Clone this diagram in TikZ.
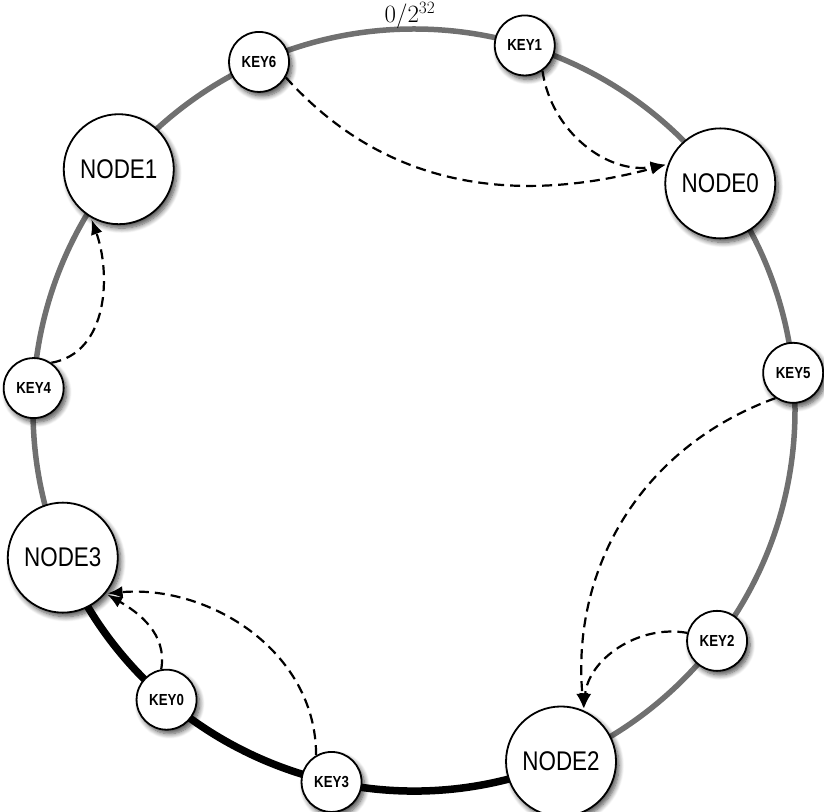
\documentclass[tikz,border=0pt]{standalone}
\usepackage{fontspec}
\newfontfamily\ringfont[FakeStretch=0.83]{Liberation Sans}
\usetikzlibrary{arrows.meta,shadows.blur}
\definecolor{ringgray}{RGB}{112,112,112}

\begin{document}
\begin{tikzpicture}[x=1pt,y=1pt,line cap=butt,line join=miter,
    ringnode/.style={circle,draw=black,line width=1.8pt,fill=white,inner sep=0pt,
      blur shadow={shadow xshift=3pt,shadow yshift=-4pt,shadow blur radius=5pt,shadow blur steps=8,shadow opacity=70}},
    servernode/.style={ringnode,minimum size=110pt,
      font=\ringfont\fontsize{27pt}{30pt}\selectfont},
    keynode/.style={ringnode,minimum size=60pt,
      font=\ringfont\bfseries\fontsize{16pt}{18pt}\selectfont},
    hop/.style={draw=black,dash pattern=on 10pt off 6pt,line width=2.2pt,shorten >=2pt,
      -{Latex[length=15pt,width=12pt]}}]
  \path[use as bounding box] (0,0) rectangle (824,811);   % bbox = 源画布 824x811 px
  % ---- 环：圆心 px(414,410)，半径 381 px（由 11 个节点中心拟合） ----
  \coordinate (O) at (414,401);
  \draw[ringgray,line width=5.5pt] (O) circle[radius=381];
  % NODE3 -> NODE2 之间的粗黑弧段（经 KEY0、KEY3）
  \draw[black,line width=7.5pt,shift={(O)}] (202.8:381) arc[start angle=202.8,end angle=292.7,radius=381];
  % ---- 节点（极角按源图中心换算，y 向上） ----
  \begin{scope}[shift={(O)}]
    \node[keynode]    (key6)  at (114.0:381) {KEY6};    % px(259, 62)
    \node[keynode]    (key1)  at ( 73.1:381) {KEY1};    % px(525, 45)
    \node[servernode] (node1) at (140.8:381) {NODE1};   % px(120,170)
    \node[servernode] (node0) at ( 36.5:381) {NODE0};   % px(727,178)
    \node[keynode]    (key4)  at (176.7:381) {KEY4};    % px( 31,388)
    \node[keynode]    (key5)  at (  5.6:381) {KEY5};    % px(793,373)
    \node[servernode] (node3) at (202.8:381) {NODE3};   % px( 65,557)
    \node[keynode]    (key2)  at (-37.3:381) {KEY2};    % px(717,641)
    \node[keynode]    (key0)  at (229.5:381) {KEY0};    % px(166,700)
    \node[keynode]    (key3)  at (257.5:381) {KEY3};    % px(332,780)
    \node[servernode] (node2) at (292.7:381) {NODE2};   % px(558,755)
  \end{scope}
  % 顶部刻度 0/2^32
  \node[anchor=base,inner sep=0pt,font=\fontsize{24pt}{28pt}\selectfont] (zero) at (410,788) {$0/2^{32}$};
  % ---- 虚线箭头：key 顺时针落到下一个 node ----
  \draw[hop] (key6.-30) to[out=-48,in=195] (node0.160);
  \draw[hop] (key1.-55) to[out=-82,in=190] (node0.160);
  \draw[hop] (key4.55)  to[out=10,in=-70]  (node1.240);
  \draw[hop] (key5.235) to[out=200,in=95]  (node2.66);
  \draw[hop] (key2.165) to[out=170,in=85]  (node2.66);
  \draw[hop] (key0.100) to[out=80,in=-30]  (node3.-40);
  \draw[hop] (key3.120) to[out=90,in=5]    (node3.-40);
\end{tikzpicture}
\end{document}
